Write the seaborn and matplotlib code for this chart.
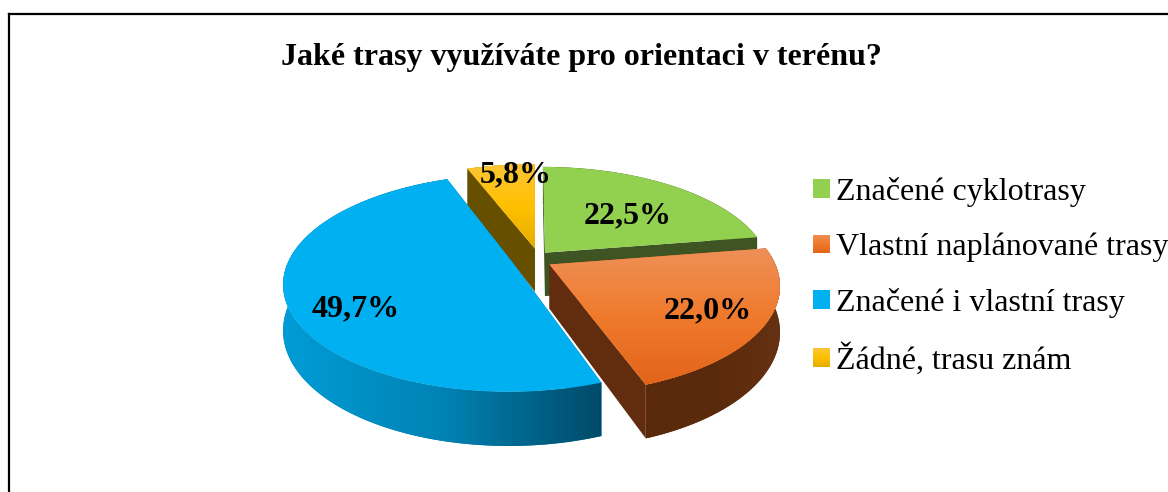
import numpy as np
import matplotlib
matplotlib.use('Agg')
import matplotlib.pyplot as plt
from matplotlib.colors import LinearSegmentedColormap
from matplotlib.patches import Patch, Polygon
from matplotlib.transforms import Transform
import seaborn as sns

# data
categories = ['Značené cyklotrasy', 'Vlastní naplánované trasy', 'Značené i vlastní trasy', 'Žádné, trasu znám']
shares = [22.5, 22.0, 49.7, 5.8]
title = 'Jaké trasy využíváte pro orientaci v terénu?'

# colours per slice
top_colors = ['#92D050', '#EE7A2C', '#00B0F0', '#FFC30F']
top_grads = [None, ['#EE9058', '#F07A2C', '#E2641A'], None, ['#FCC535', '#FFC000', '#E5AD00']]
wall_colors = ['#3F5423', '#622D0F', '#0078A6', '#665000']
wall_grads = [None, ['#5A2A0C', '#5A2A0C', '#653212'], ['#009CD6', '#0083B4', '#004A69'], None]

# layout, pixels of the picture
label_xy = [(628, 216), (708, 311), (356, 309), (516, 175)]
CX, CY = 532, 259.7
RADIUS, TILT, PERSP = 224, 0.4636, 0.183
EXPLODE = 0.09
DEPTH = 44
YELLOW_NUDGE = (0.03, 0.02)


class PiePlane(Transform):
    """Unit disc of the pie -> picture pixels, with tilt and perspective"""
    input_dims = 2
    output_dims = 2

    def __init__(self, drop=0):
        super().__init__()
        self.drop = drop

    def transform_non_affine(self, xy):
        xy = np.asarray(xy, dtype=float)
        s = 1 / (1 + PERSP * xy[:, 1])
        return np.column_stack([CX + RADIUS * xy[:, 0] * s,
                                CY - RADIUS * TILT * xy[:, 1] * s + self.drop * s])


def shade(ax, patch, colors, direction, zorder):
    """Gradient image clipped to a patch"""
    box = patch.get_window_extent()
    grad = np.linspace(0, 1, 256)
    grad = grad[:, None] if direction == 'v' else grad[None, :]
    cmap = LinearSegmentedColormap.from_list('g', colors)
    im = ax.imshow(grad, cmap=cmap, aspect='auto', zorder=zorder,
                   extent=(box.x0, box.x1, 492 - box.y0, 492 - box.y1))
    im.set_clip_path(patch)


def arc_points(center, t1, t2, n=120):
    t = np.radians(np.linspace(t1, t2, n))
    return np.column_stack([center[0] + np.cos(t), center[1] + np.sin(t)])


def wall(ax, a, color, grad, zorder):
    """Side face hanging below the line a on the disc"""
    upper = PiePlane().transform(a)
    lower = PiePlane(DEPTH).transform(a[::-1])
    face = Polygon(np.vstack([upper, lower]), closed=True, facecolor=color, edgecolor='none', zorder=zorder)
    ax.add_patch(face)
    if grad:
        shade(ax, face, grad, 'h', zorder + 0.1)


sns.set_theme(style='white')
plt.rcParams['font.family'] = ['Liberation Serif', 'DejaVu Serif']

fig = plt.figure(figsize=(11.68, 4.92), dpi=100, facecolor='white')

frame_ax = fig.add_axes([9 / 1168, 0, 1, 1 - 14 / 492])
frame_ax.set_xticks([])
frame_ax.set_yticks([])
for side in ['top', 'left']:
    frame_ax.spines[side].set_color('black')
    frame_ax.spines[side].set_linewidth(1.6)
sns.despine(ax=frame_ax, top=False, left=False, right=True, bottom=True)

ax = fig.add_axes([0, 0, 1, 1])
ax.patch.set_alpha(0)
wedges, _ = ax.pie(shares, explode=[EXPLODE] * 4, colors=top_colors, startangle=90, counterclock=False,
                   wedgeprops={'linewidth': 0})
ax.set_aspect('auto')
ax.set_xlim(0, 1168)
ax.set_ylim(492, 0)

# the small slice sits a bit closer to the green one
yc = wedges[3].center
wedges[3].set_center((yc[0] + YELLOW_NUDGE[0], yc[1] + YELLOW_NUDGE[1]))

# back slices first, then orange, then blue in front
order = {3: 2, 0: 2.5, 1: 6, 2: 10}
for i, wedge in enumerate(wedges):
    z = order[i]
    c = np.array(wedge.center)
    arc = arc_points(c, wedge.theta1, wedge.theta2)
    wall(ax, np.array([c, arc[0]]), wall_colors[i], None, z)
    wall(ax, arc, wall_colors[i], wall_grads[i], z + 0.2)
    wall(ax, np.array([arc[-1], c]), wall_colors[i], None, z)
    wedge.set_transform(PiePlane() + ax.transData)
    wedge.set_zorder(z + 1)
    if top_grads[i]:
        shade(ax, wedge, top_grads[i], 'v', z + 1.1)

for share, (x, y) in zip(shares, label_xy):
    ax.text(x, y, f'{share:.1f}%'.replace('.', ','), ha='center', va='center', fontsize=23,
            fontweight='bold', color='black', zorder=20)

ax.text(581, 57, title, ha='center', va='center', fontsize=23, fontweight='bold', color='black')

handles = [Patch(facecolor=c, edgecolor='none') for c in top_colors]
leg = ax.legend(handles, categories, loc='center left', bbox_to_anchor=(813, 276.5), bbox_transform=ax.transData,
                frameon=False, fontsize=23, labelcolor='black', handlelength=0.52, handleheight=0.52,
                handletextpad=0.2, labelspacing=0.8, borderpad=0, borderaxespad=0)

# gradient swatches in the legend, same as the slices
fig.canvas.draw()
for handle, grad in zip(leg.get_patches(), top_grads):
    if grad:
        shade(ax, handle, grad, 'v', 21)

fig.savefig('out.png', dpi=100)
